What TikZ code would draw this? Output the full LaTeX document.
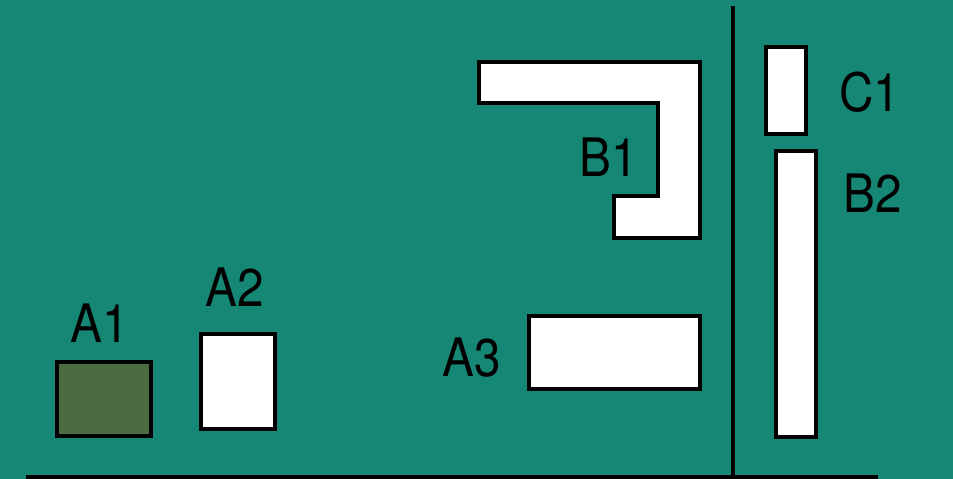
\documentclass[tikz,border=0pt]{standalone}
\usepackage{fontspec}
\setmainfont{TeX Gyre Heros}
\definecolor{bgteal}{RGB}{21,135,116}
\definecolor{olivebox}{RGB}{74,108,64}
\newcommand{\narrowtxt}[1]{\scalebox{0.9}[1]{#1}}
\tikzset{
  part/.style={draw=black, line width=4pt, fill=white, inner sep=0pt, outer sep=0pt},
  lbl/.style={inner sep=0pt, anchor=base, text=black, font=\fontsize{53}{53}\selectfont},
  rule/.style={draw=black, line width=3.5pt}
}
\begin{document}
\begin{tikzpicture}[x=1pt,y=-1pt]
\fill[bgteal] (0,0) rectangle (953,479);
\useasboundingbox (0,0) rectangle (953,479);
% parts
\node[part, fill=olivebox, minimum width=94pt, minimum height=74pt] (a1) at (104,399) {};
\node[part, minimum width=74pt, minimum height=95pt] (a2) at (238,381.5) {};
\node[part, minimum width=171pt, minimum height=73pt] (a3) at (614.5,352.5) {};
\node[part, minimum width=40pt, minimum height=87pt] (c1) at (786,90.5) {};
\node[part, minimum width=40pt, minimum height=286pt] (b2) at (796,294) {};
\draw[part] (479,62) -- (700,62) -- (700,238) -- (614,238) -- (614,196) -- (658,196) -- (658,103) -- (479,103) -- cycle;
% rules
\coordinate (vtop) at (733,6);
\coordinate (vbot) at (733,479);
\coordinate (hl) at (26,477.5);
\coordinate (hr) at (878,477.5);
\draw[rule, line width=3.5pt] (vtop) -- (vbot);
\draw[rule, line width=5pt] (hl) -- (hr);
% labels
\node[lbl] (la1) at (100,342) {\narrowtxt{A1}};
\node[lbl] (la2) at (234.5,306) {\narrowtxt{A2}};
\node[lbl] (la3) at (471.5,376) {\narrowtxt{A3}};
\node[lbl] (lb1) at (609,176) {\narrowtxt{B1}};
\node[lbl] (lc1) at (870,111) {\narrowtxt{C1}};
\node[lbl] (lb2) at (873,212) {\narrowtxt{B2}};
\end{tikzpicture}
\end{document}
